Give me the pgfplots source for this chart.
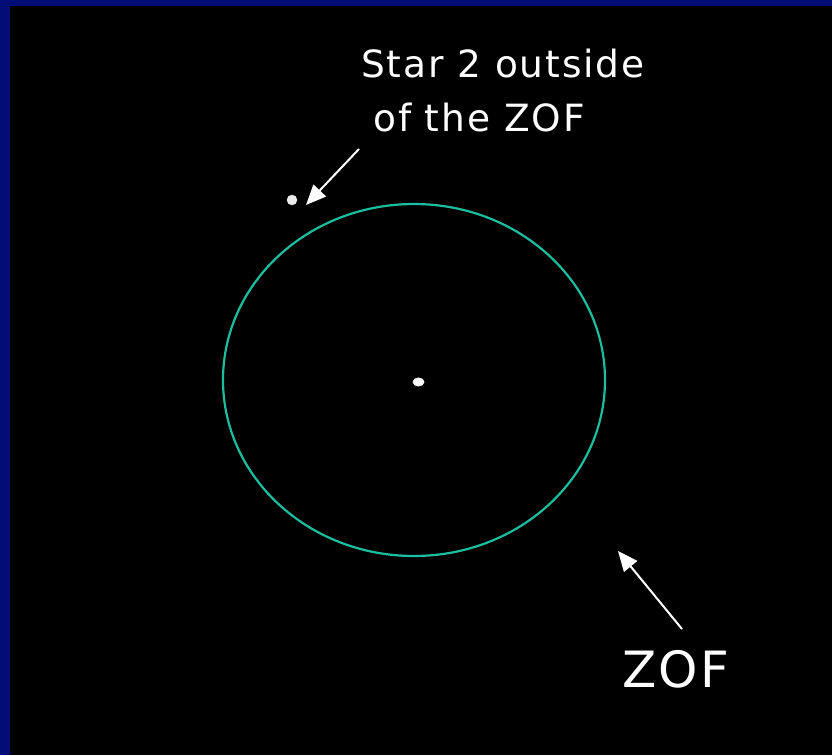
\documentclass[border=0pt]{standalone}
\usepackage{fontspec}
\setmainfont{DejaVu Sans}
\newfontfamily\lbl[LetterSpace=5]{DejaVu Sans}
\usepackage{pgfplots}
\pgfplotsset{compat=1.18}
\usetikzlibrary{arrows.meta}
\definecolor{navyb}{RGB}{2,13,120}
\definecolor{zofc}{RGB}{28,190,160}
\begin{document}
\begin{tikzpicture}
\begin{axis}[
  width=832pt, height=755pt, scale only axis,
  xmin=0, xmax=832, ymin=0, ymax=755, y dir=reverse,
  axis lines=none, clip=false,
]
\fill[black] (axis cs:0,0) rectangle (axis cs:832,755);
\fill[navyb] (axis cs:0,0) rectangle (axis cs:10,755);
\fill[navyb] (axis cs:0,0) rectangle (axis cs:832,6);
\draw[zofc, line width=2.2pt] (axis cs:414,380) ellipse [x radius=191pt, y radius=176pt];
% stars
\addplot[only marks, mark=*, mark size=5pt, color=white!92!black] coordinates {(292,200)};
\addplot[only marks, mark=*, mark size=4.2pt, color=white, mark options={xscale=1.35}] coordinates {(418.5,382)};
% arrows
\draw[white, line width=2pt, -{Triangle[length=20pt,width=17pt]}] (axis cs:359,149) -- (axis cs:306,205);
\draw[white, line width=2pt, -{Triangle[length=20pt,width=17pt]}] (axis cs:682,629) -- (axis cs:618,551);
% labels
\node[anchor=base west, text=white, inner sep=0pt, font=\lbl\fontsize{37.5}{45}\selectfont] at (axis cs:361,77) {Star 2 outside};
\node[anchor=base west, text=white, inner sep=0pt, font=\lbl\fontsize{37.5}{45}\selectfont] at (axis cs:373,131) {of the ZOF};
\node[anchor=base west, text=white, inner sep=0pt, font=\lbl\fontsize{50}{60}\selectfont] at (axis cs:622,687) {ZOF};
\end{axis}
\end{tikzpicture}
\end{document}
